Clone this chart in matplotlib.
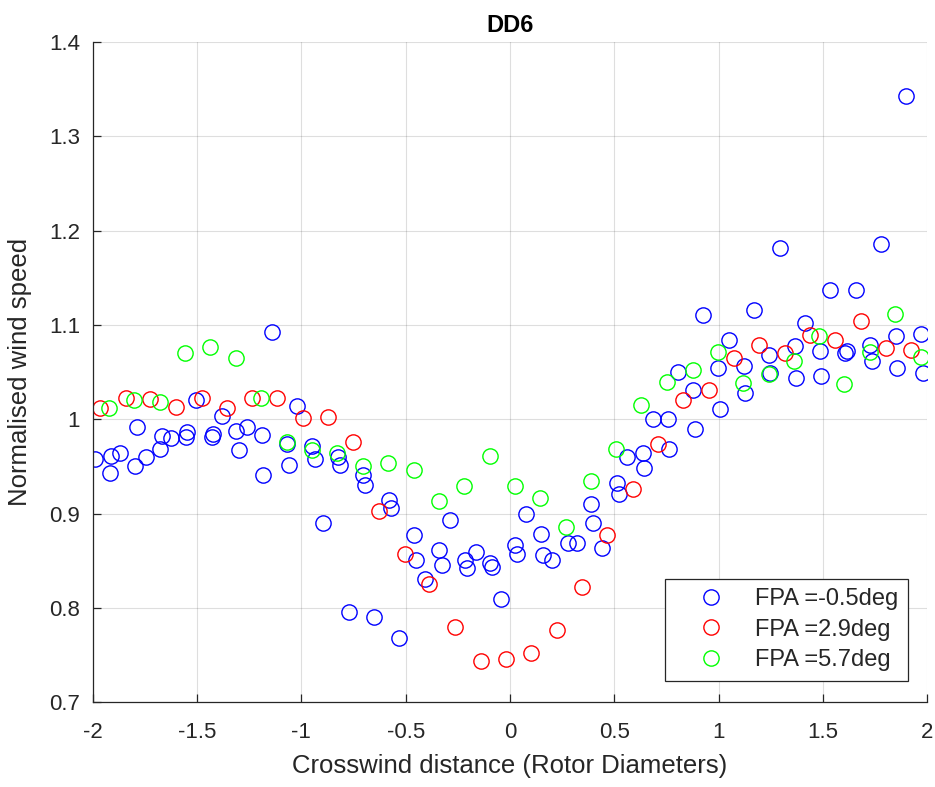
import matplotlib
matplotlib.use("Agg")
import matplotlib.pyplot as plt

plt.rcParams['font.family'] = ['Liberation Sans', 'DejaVu Sans']

# FPA = -0.5 deg
x_a = [-1.990, -1.918, -1.910, -1.867, -1.797, -1.787, -1.746, -1.677, -1.669, -1.626,
       -1.554, -1.546, -1.505, -1.430, -1.423, -1.382, -1.311, -1.300, -1.261, -1.190,
       -1.182, -1.139, -1.069, -1.058, -1.020, -0.947, -0.936, -0.897, -0.825, -0.817,
       -0.773, -0.705, -0.693, -0.652, -0.580, -0.572, -0.531, -0.461, -0.449, -0.409,
       -0.338, -0.328, -0.288, -0.218, -0.207, -0.165, -0.098, -0.087, -0.043, 0.026,
       0.032, 0.078, 0.148, 0.157, 0.199, 0.277, 0.322, 0.390, 0.400, 0.442,
       0.513, 0.521, 0.561, 0.637, 0.644, 0.683, 0.756, 0.764, 0.806, 0.875,
       0.885, 0.927, 0.999, 1.007, 1.048, 1.120, 1.128, 1.171, 1.243, 1.248,
       1.292, 1.364, 1.371, 1.414, 1.486, 1.492, 1.535, 1.605, 1.615, 1.656,
       1.727, 1.736, 1.778, 1.850, 1.857, 1.899, 1.971, 1.979]
y_a = [0.958, 0.943, 0.961, 0.964, 0.951, 0.992, 0.960, 0.969, 0.982, 0.980,
       0.981, 0.987, 1.020, 0.981, 0.984, 1.004, 0.988, 0.967, 0.992, 0.983,
       0.941, 1.092, 0.974, 0.952, 1.014, 0.972, 0.958, 0.890, 0.960, 0.952,
       0.796, 0.941, 0.930, 0.791, 0.915, 0.906, 0.768, 0.877, 0.851, 0.831,
       0.862, 0.846, 0.893, 0.851, 0.842, 0.859, 0.848, 0.843, 0.810, 0.867,
       0.857, 0.900, 0.878, 0.856, 0.851, 0.869, 0.869, 0.910, 0.890, 0.864,
       0.932, 0.921, 0.960, 0.964, 0.948, 1.000, 1.000, 0.969, 1.050, 1.031,
       0.990, 1.110, 1.054, 1.011, 1.084, 1.056, 1.028, 1.116, 1.068, 1.049,
       1.181, 1.078, 1.044, 1.102, 1.072, 1.046, 1.137, 1.070, 1.072, 1.137,
       1.079, 1.062, 1.186, 1.088, 1.054, 1.342, 1.090, 1.049]

# FPA = 2.9 deg
x_b = [-1.963, -1.841, -1.723, -1.601, -1.478, -1.358, -1.235, -1.115, -0.992, -0.871,
       -0.750, -0.628, -0.505, -0.386, -0.262, -0.141, -0.018, 0.102, 0.223, 0.346,
       0.467, 0.588, 0.711, 0.831, 0.952, 1.074, 1.195, 1.318, 1.438, 1.559,
       1.680, 1.802, 1.924]
y_b = [1.012, 1.023, 1.021, 1.013, 1.023, 1.012, 1.023, 1.023, 1.001, 1.002,
       0.976, 0.903, 0.857, 0.825, 0.780, 0.744, 0.746, 0.752, 0.777, 0.822,
       0.877, 0.926, 0.974, 1.020, 1.031, 1.065, 1.079, 1.070, 1.089, 1.084,
       1.104, 1.076, 1.073]

# FPA = 5.7 deg
x_c = [-1.921, -1.800, -1.679, -1.556, -1.436, -1.313, -1.192, -1.069, -0.947, -0.828,
       -0.705, -0.585, -0.462, -0.341, -0.219, -0.098, 0.023, 0.145, 0.267, 0.389,
       0.509, 0.630, 0.754, 0.875, 0.995, 1.118, 1.239, 1.361, 1.482, 1.602,
       1.725, 1.846, 1.969]
y_c = [1.012, 1.020, 1.018, 1.070, 1.077, 1.065, 1.023, 0.976, 0.967, 0.964,
       0.950, 0.954, 0.946, 0.913, 0.929, 0.961, 0.929, 0.917, 0.886, 0.935,
       0.969, 1.015, 1.040, 1.052, 1.071, 1.038, 1.048, 1.062, 1.088, 1.037,
       1.071, 1.112, 1.066]

labels = ['FPA =-0.5deg', 'FPA =2.9deg', 'FPA =5.7deg']
xticks = [-2, -1.5, -1, -0.5, 0, 0.5, 1, 1.5, 2]
yticks = [0.7, 0.8, 0.9, 1.0, 1.1, 1.2, 1.3, 1.4]
xtick_labels = ['-2', '-1.5', '-1', '-0.5', '0', '0.5', '1', '1.5', '2']
ytick_labels = ['0.7', '0.8', '0.9', '1', '1.1', '1.2', '1.3', '1.4']

fig = plt.figure(figsize=(9.35, 7.87), dpi=100)
ax = fig.add_axes([0.0991, 0.1074, 0.8927, 0.8396])

mk = dict(linestyle='none', marker='o', markersize=11, markerfacecolor='none',
          markeredgewidth=1.0)
ax.plot(x_a, y_a, color=(0, 0, 1), label=labels[0], **mk)
ax.plot(x_b, y_b, color=(1, 0, 0), label=labels[1], **mk)
ax.plot(x_c, y_c, color=(0, 1, 0), label=labels[2], **mk)

ax.set_xlim(-2, 2)
ax.set_ylim(0.7, 1.4)
ax.set_xticks(xticks)
ax.set_xticklabels(xtick_labels)
ax.set_yticks(yticks)
ax.set_yticklabels(ytick_labels)

ax.grid(True, color='#262626', alpha=0.15, linewidth=0.8)
ax.set_axisbelow(True)
for s in ['top', 'right']:
    ax.spines[s].set_visible(False)
for s in ['left', 'bottom']:
    ax.spines[s].set_color('#262626')
    ax.spines[s].set_linewidth(0.9)
ax.tick_params(direction='in', length=6, width=0.9, color='#262626',
               labelcolor='#262626', labelsize=16)
ax.tick_params(axis='x', pad=14)
ax.tick_params(axis='y', pad=9)

ax.set_xlabel('Crosswind distance (Rotor Diameters)', fontsize=18.5, color='#262626', labelpad=8)
ax.set_ylabel('Normalised wind speed', fontsize=18.5, color='#262626', labelpad=12)
ax.set_title('DD6', fontsize=17, fontweight='bold', pad=7)

leg = ax.legend(loc='lower right', bbox_to_anchor=(0.977, 0.033), borderaxespad=0,
                fontsize=17, frameon=True, fancybox=False, framealpha=1,
                edgecolor='#262626', handlelength=3.1, handletextpad=0.35,
                borderpad=0.4, labelspacing=0.36, numpoints=1)
leg.get_frame().set_linewidth(0.9)
for t in leg.get_texts():
    t.set_color('#262626')

fig.savefig('out.png', dpi=100)
